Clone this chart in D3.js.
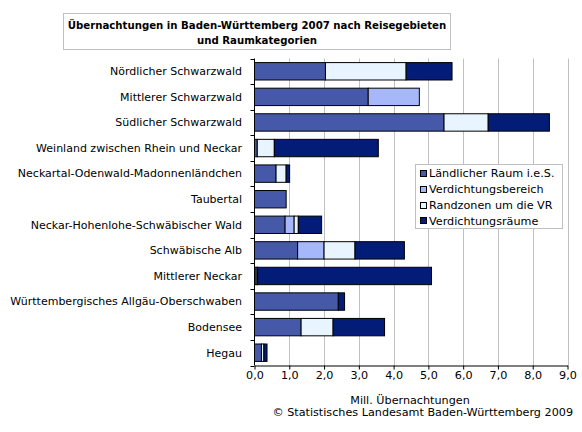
<!DOCTYPE html>
<html>
<head>
<meta charset="utf-8">
<script src="https://cdn.jsdelivr.net/npm/d3@7"></script>
<style>
  body { margin: 0; background: #fff; }
  text { font-family: "DejaVu Sans", Verdana, sans-serif; }
</style>
</head>
<body>
<div id="chart"></div>
<script>
const regions = [
  "Nördlicher Schwarzwald",
  "Mittlerer Schwarzwald",
  "Südlicher Schwarzwald",
  "Weinland zwischen Rhein und Neckar",
  "Neckartal-Odenwald-Madonnenländchen",
  "Taubertal",
  "Neckar-Hohenlohe-Schwäbischer Wald",
  "Schwäbische Alb",
  "Mittlerer Neckar",
  "Württembergisches Allgäu-Oberschwaben",
  "Bodensee",
  "Hegau"
];
const seriesNames = ["Ländlicher Raum i.e.S.", "Verdichtungsbereich", "Randzonen um die VR", "Verdichtungsräume"];
const laendlich     = [2.04, 3.27, 5.45, 0.08, 0.62, 0.91, 0.88, 1.24, 0.05, 2.41, 1.34, 0.20];
const verdBereich   = [0,    1.47, 0,    0,    0,    0,    0.26, 0.76, 0,    0,    0,    0];
const randzonen     = [2.32, 0,    1.27, 0.49, 0.29, 0,    0.12, 0.89, 0.04, 0,    0.92, 0.07];
const verdRaeume    = [1.32, 0,    1.76, 2.99, 0.10, 0,    0.67, 1.42, 5.00, 0.18, 1.48, 0.09];
const xTicks = [0, 1, 2, 3, 4, 5, 6, 7, 8, 9];
const colors = ["#4659A9", "#A7B8FA", "#E8F4FF", "#021C78"];

const W = 582, H = 432;
const FS = "11.2px";
const svg = d3.select("#chart").append("svg").attr("width", W).attr("height", H);

const x = d3.scaleLinear().domain([0, 9]).range([254.5, 567.5]);
const y = d3.scaleBand().domain(regions).range([58.5, 365.5]).paddingInner(0.32).paddingOuter(0.16);

// gridlines
svg.append("g").selectAll("line").data(xTicks.slice(1)).join("line")
  .attr("x1", d => Math.round(x(d)) + 0.5).attr("x2", d => Math.round(x(d)) + 0.5)
  .attr("y1", 58.5).attr("y2", 365.5)
  .attr("stroke", "#C0C0C0");

// stacked bars
const table = regions.map((r, i) => ({
  region: r, s0: laendlich[i], s1: verdBereich[i], s2: randzonen[i], s3: verdRaeume[i]
}));
const stack = d3.stack().keys(["s0", "s1", "s2", "s3"])(table);

svg.append("g").selectAll("g").data(stack).join("g")
  .attr("fill", (d, i) => colors[i])
  .selectAll("rect").data(d => d.filter(v => v[1] - v[0] > 0)).join("rect")
  .attr("x", d => x(d[0]))
  .attr("y", d => y(d.data.region))
  .attr("width", d => x(d[1]) - x(d[0]))
  .attr("height", y.bandwidth())
  .attr("stroke", "#000")
  .attr("stroke-width", 1);

// y axis
const yAxis = svg.append("g").attr("transform", "translate(254.5,0)");
yAxis.append("line").attr("y1", 58.5).attr("y2", 365.5).attr("stroke", "#000");
const bounds = d3.range(regions.length + 1).map(k => 58.5 + k * y.step());
yAxis.selectAll("line.t").data(bounds).join("line").attr("class", "t")
  .attr("x1", -4).attr("x2", 0).attr("y1", d => Math.round(d) + 0.5).attr("y2", d => Math.round(d) + 0.5)
  .attr("stroke", "#000");
svg.append("g").selectAll("text").data(regions).join("text")
  .attr("x", 242)
  .attr("y", d => y(d) + y.bandwidth() / 2)
  .attr("dy", "0.35em")
  .attr("text-anchor", "end")
  .attr("font-size", "11px")
  .attr("fill", "#000")
  .text(d => d);

// x axis
const xAxis = svg.append("g").attr("transform", "translate(0,365.5)")
  .call(d3.axisBottom(x).tickValues(xTicks).tickSize(4).tickSizeOuter(0)
    .tickFormat(d => d3.format(".1f")(d).replace(".", ",")));
xAxis.select(".domain").attr("stroke", "#000");
xAxis.selectAll(".tick line").attr("stroke", "#000");
xAxis.selectAll(".tick text").attr("font-size", FS).attr("font-family", "DejaVu Sans").attr("fill", "#000").attr("dy", "0.6em");

svg.append("text").attr("x", 410).attr("y", 404).attr("text-anchor", "middle")
  .attr("font-size", FS).text("Mill. Übernachtungen");
svg.append("text").attr("x", 573).attr("y", 416).attr("text-anchor", "end")
  .attr("font-size", FS).text("© Statistisches Landesamt Baden-Württemberg 2009");

// legend
const lg = svg.append("g");
lg.append("rect").attr("x", 415.5).attr("y", 164.5).attr("width", 147).attr("height", 64)
  .attr("fill", "#fff").attr("stroke", "#C0C0C0");
seriesNames.forEach((name, i) => {
  const cy = 173.5 + i * 15.8;
  lg.append("rect").attr("x", 420.5).attr("y", Math.round(cy - 3.5) + 0.5).attr("width", 6).attr("height", 6)
    .attr("fill", colors[i]).attr("stroke", "#000");
  lg.append("text").attr("x", 429).attr("y", cy).attr("dy", "0.35em")
    .attr("font-size", FS).text(name);
});

// title
svg.append("rect").attr("x", 63.5).attr("y", 13.5).attr("width", 387).attr("height", 36)
  .attr("fill", "#fff").attr("stroke", "#C0C0C0");
const title = svg.append("text").attr("text-anchor", "middle").attr("font-weight", "bold")
  .attr("font-size", "11.3px").style("font-family", "'DejaVu Sans Condensed', 'DejaVu Sans', sans-serif");
title.append("tspan").attr("x", 257).attr("y", 29).text("Übernachtungen in Baden-Württemberg 2007 nach Reisegebieten");
title.append("tspan").attr("x", 257).attr("y", 44).text("und Raumkategorien");
</script>
</body>
</html>
